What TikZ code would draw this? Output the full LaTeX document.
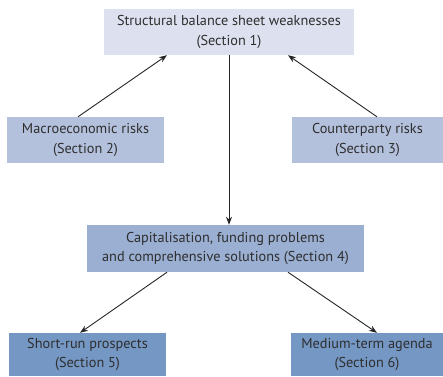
\documentclass[tikz,border=0pt]{standalone}
\usepackage{fontspec}
\setmainfont{PT Sans}
\usetikzlibrary{arrows.meta}
\definecolor{tierA}{HTML}{DDE1EF}
\definecolor{tierB}{HTML}{B4C1DD}
\definecolor{tierC}{HTML}{9AAFD2}
\definecolor{tierD}{HTML}{7597C4}
\definecolor{inkgray}{HTML}{2E2E2E}
\tikzset{
  secbox/.style={rectangle, inner sep=0pt, align=center, text=inkgray,
    font=\fontsize{14.3}{19.5}\selectfont},
  link/.style={draw=black!85, line width=0.9pt, -{Stealth[length=8pt,width=6pt]}}
}
\begin{document}
\begin{tikzpicture}[x=1pt,y=-1pt]
\useasboundingbox (0,0) rectangle (443,376);
\node[secbox, fill=tierA, minimum width=250pt, minimum height=46pt] (s1) at (229,32)
  {Structural balance sheet weaknesses\\(Section 1)};
\node[secbox, fill=tierB, minimum width=157pt, minimum height=46pt] (s2) at (85.5,140)
  {Macroeconomic risks\\(Section 2)};
\node[secbox, fill=tierB, minimum width=151pt, minimum height=46pt] (s3) at (367.5,140)
  {Counterparty risks\\(Section 3)};
\node[secbox, fill=tierC, minimum width=277pt, minimum height=47pt] (s4) at (225.5,248.5)
  {Capitalisation, funding problems\\and comprehensive solutions (Section 4)};
\node[secbox, fill=tierD, minimum width=157pt, minimum height=43pt] (s5) at (87.5,354.5)
  {Short-run prospects\\(Section 5)};
\node[secbox, fill=tierD, minimum width=152pt, minimum height=43pt] (s6) at (367,354.5)
  {Medium-term agenda\\(Section 6)};
\draw[link] ([xshift=-7.5pt]s2.north) -- ([xshift=-62pt]s1.south);
\draw[link] ([xshift=9.5pt]s3.north) -- ([xshift=59pt]s1.south);
\draw[link] (s1.south) -- (s1.south |- s4.north);
\draw[link] ([xshift=-58.5pt]s4.south) -- ([xshift=-7.5pt]s5.north);
\draw[link] ([xshift=62.5pt]s4.south) -- ([xshift=10pt]s6.north);
\end{tikzpicture}
\end{document}
